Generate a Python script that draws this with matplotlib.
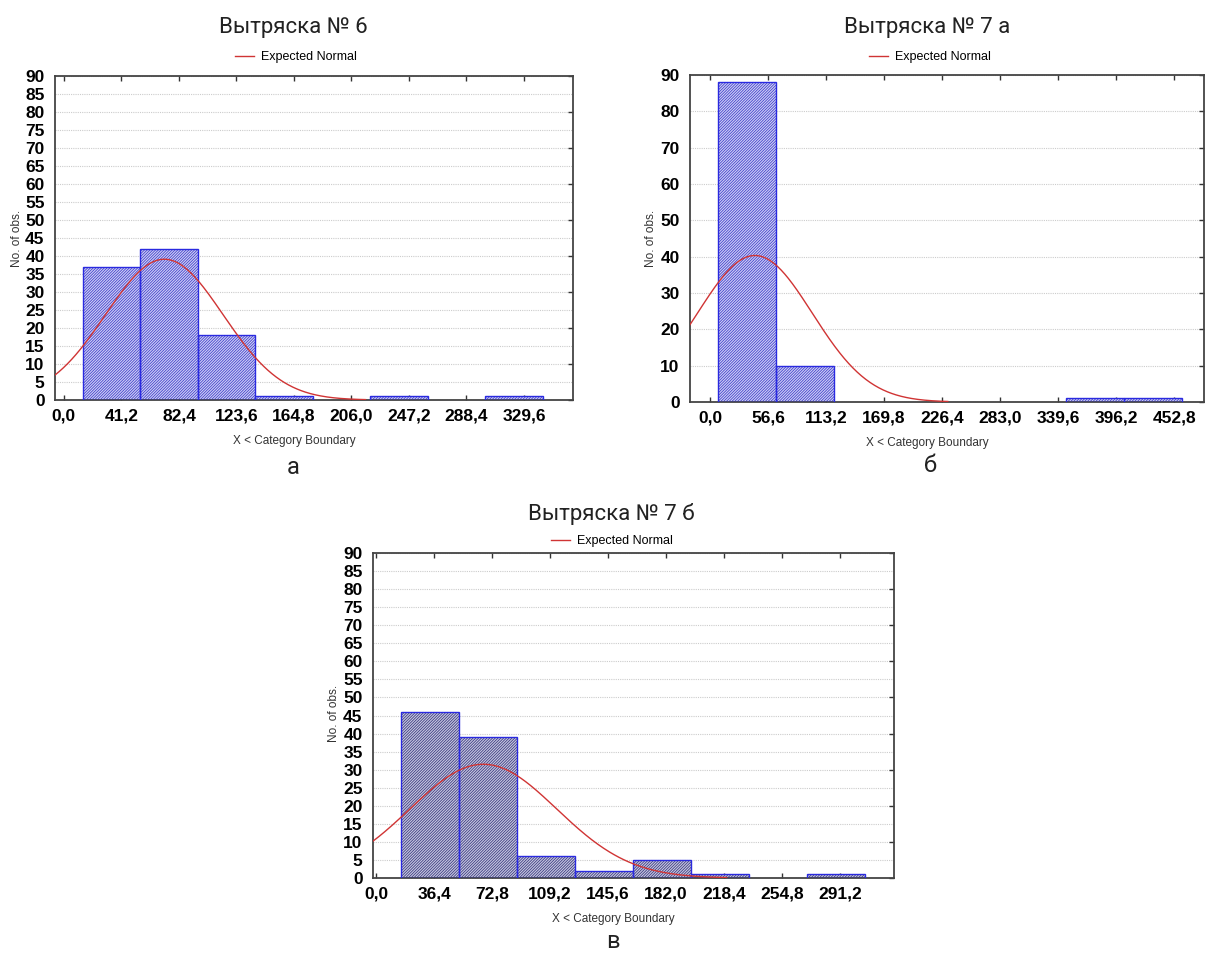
import numpy as np
import matplotlib
matplotlib.use("Agg")
import matplotlib.pyplot as plt

# --- data ------------------------------------------------------------------
titles = ["Вытряска № 6", "Вытряска № 7 а", "Вытряска № 7 б"]
sub_labels = ["а", "б", "в"]

# category boundaries shown on the x axis
xticks_a = ["0,0", "41,2", "82,4", "123,6", "164,8", "206,0", "247,2", "288,4", "329,6"]
xticks_b = ["0,0", "56,6", "113,2", "169,8", "226,4", "283,0", "339,6", "396,2", "452,8"]
xticks_c = ["0,0", "36,4", "72,8", "109,2", "145,6", "182,0", "218,4", "254,8", "291,2"]

# histogram counts per class
counts_a = [37, 42, 18, 1, 0, 1, 0, 1]
counts_b = [88, 10, 0, 0, 0, 0, 1, 1]
counts_c = [46, 39, 6, 2, 5, 1, 0, 1]

# first bar edge and class width
start_a, width_a = 13.4, 41.2
start_b, width_b = 8.0, 56.6
start_c, width_c = 15.8, 36.4

# expected normal: mean, sd (estimated from the red curve)
mean_a, sd_a = 71.9, 42.1
mean_b, sd_b = 43.8, 56.0
mean_c, sd_c = 67.3, 46.1
curve_end = [216, 232, 220]

xlims = [(-6.4, 364.7), (-19.5, 482.0), (-1.9, 325.0)]
ystep = [5, 10, 5]

# --- layout (pixels of a 1205x957 canvas) ----------------------------------
W, H = 1205, 957
boxes = [(55, 75.5, 573, 400), (690, 75, 1204, 402), (373, 553, 894, 878)]
title_xy = [(293, 27), (927, 27), (611, 514)]
legend_xy = [(296, 57), (930, 57), (612, 541)]
ylabel_xy = [(17, 238), (651, 238), (334, 713)]
sub_xy = [(293, 468), (930, 465), (613, 942)]
hatch_col = ["#3c3cc8", "#3c3cc8", "#34347c"]
face_col = ["#cfcff6", "#cfcff6", "#c8c8e0"]

plt.rcParams["hatch.linewidth"] = 0.55
fig = plt.figure(figsize=(W / 100, H / 100), dpi=100)

panels = [
    (xticks_a, counts_a, start_a, width_a, mean_a, sd_a),
    (xticks_b, counts_b, start_b, width_b, mean_b, sd_b),
    (xticks_c, counts_c, start_c, width_c, mean_c, sd_c),
]

tick_font = {"family": ["Liberation Sans", "DejaVu Sans"], "weight": "bold", "size": 12.5}
small_font = ["Liberation Sans", "DejaVu Sans"]
title_font = ["Roboto", "DejaVu Sans"]

for i, (xt, counts, start, width, mu, sd) in enumerate(panels):
    l, t, r, b = boxes[i]
    ax = fig.add_axes([l / W, 1 - b / H, (r - l) / W, (b - t) / H])

    counts = np.array(counts)
    lefts = start + width * np.arange(len(counts))
    keep = counts > 0
    # hatched fill, then the blue outline on top
    ax.bar(lefts[keep], counts[keep], width=width, align="edge",
           facecolor=face_col[i], edgecolor=hatch_col[i], hatch="/" * 12,
           linewidth=0, zorder=2)
    ax.bar(lefts[keep], counts[keep], width=width, align="edge",
           fill=False, edgecolor="#2a2ae0", linewidth=1.0, zorder=3)

    # expected normal curve
    n = counts.sum()
    xs = np.linspace(xlims[i][0], curve_end[i], 300)
    ys = n * width * np.exp(-0.5 * ((xs - mu) / sd) ** 2) / (sd * np.sqrt(2 * np.pi))
    line, = ax.plot(xs, ys, color="#d03434", linewidth=1.0, zorder=4,
                    label="Expected Normal")

    ax.set_xlim(*xlims[i])
    ax.set_ylim(0, 90)

    pos = [float(s.replace(",", ".")) for s in xt]
    ax.set_xticks(pos)
    ax.set_xticklabels(xt, fontdict=tick_font)
    yt = list(range(0, 91, ystep[i]))
    ax.set_yticks(yt)
    ax.set_yticklabels([str(v) for v in yt], fontdict=tick_font)
    ax.set_yticks(range(0, 91, 10), minor=True)
    ax.yaxis.remove_overlapping_locs = False

    ax.tick_params(axis="x", which="major", direction="in", length=3.5,
                   top=True, bottom=True, pad=6, width=1, color="#333333")
    ax.tick_params(axis="y", which="major", left=False, right=False, pad=4)
    ax.tick_params(axis="y", which="minor", left=False, right=True,
                   direction="in", length=3.5, width=1, color="#333333")

    ax.grid(axis="y", which="major", linestyle=(0, (1, 1)), color="#cccccc",
            linewidth=0.8, zorder=0)
    ax.set_axisbelow(True)
    for sp in ax.spines.values():
        sp.set_color("#444444")
        sp.set_linewidth(1.3)

    fig.text(title_xy[i][0] / W, 1 - title_xy[i][1] / H, titles[i],
             ha="center", va="center", fontsize=16, family=title_font,
             color="#222222")
    ax.legend(handles=[line], loc="center",
              bbox_to_anchor=(legend_xy[i][0] / W, 1 - legend_xy[i][1] / H),
              bbox_transform=fig.transFigure, frameon=False, handlelength=1.5,
              handletextpad=0.6, prop={"family": small_font, "size": 9})
    fig.text(ylabel_xy[i][0] / W, 1 - ylabel_xy[i][1] / H, "No. of obs.",
             rotation=90, ha="center", va="center", fontsize=8.5,
             family=small_font, color="#333333")
    fig.text(((l + r) / 2 - 20) / W, 1 - (b + 41) / H, "X < Category Boundary",
             ha="center", va="center", fontsize=8.5, family=small_font,
             color="#333333")
    fig.text(sub_xy[i][0] / W, 1 - sub_xy[i][1] / H, sub_labels[i],
             ha="center", va="center", fontsize=17, family=title_font,
             color="#222222")

fig.savefig("out.png", dpi=100)
